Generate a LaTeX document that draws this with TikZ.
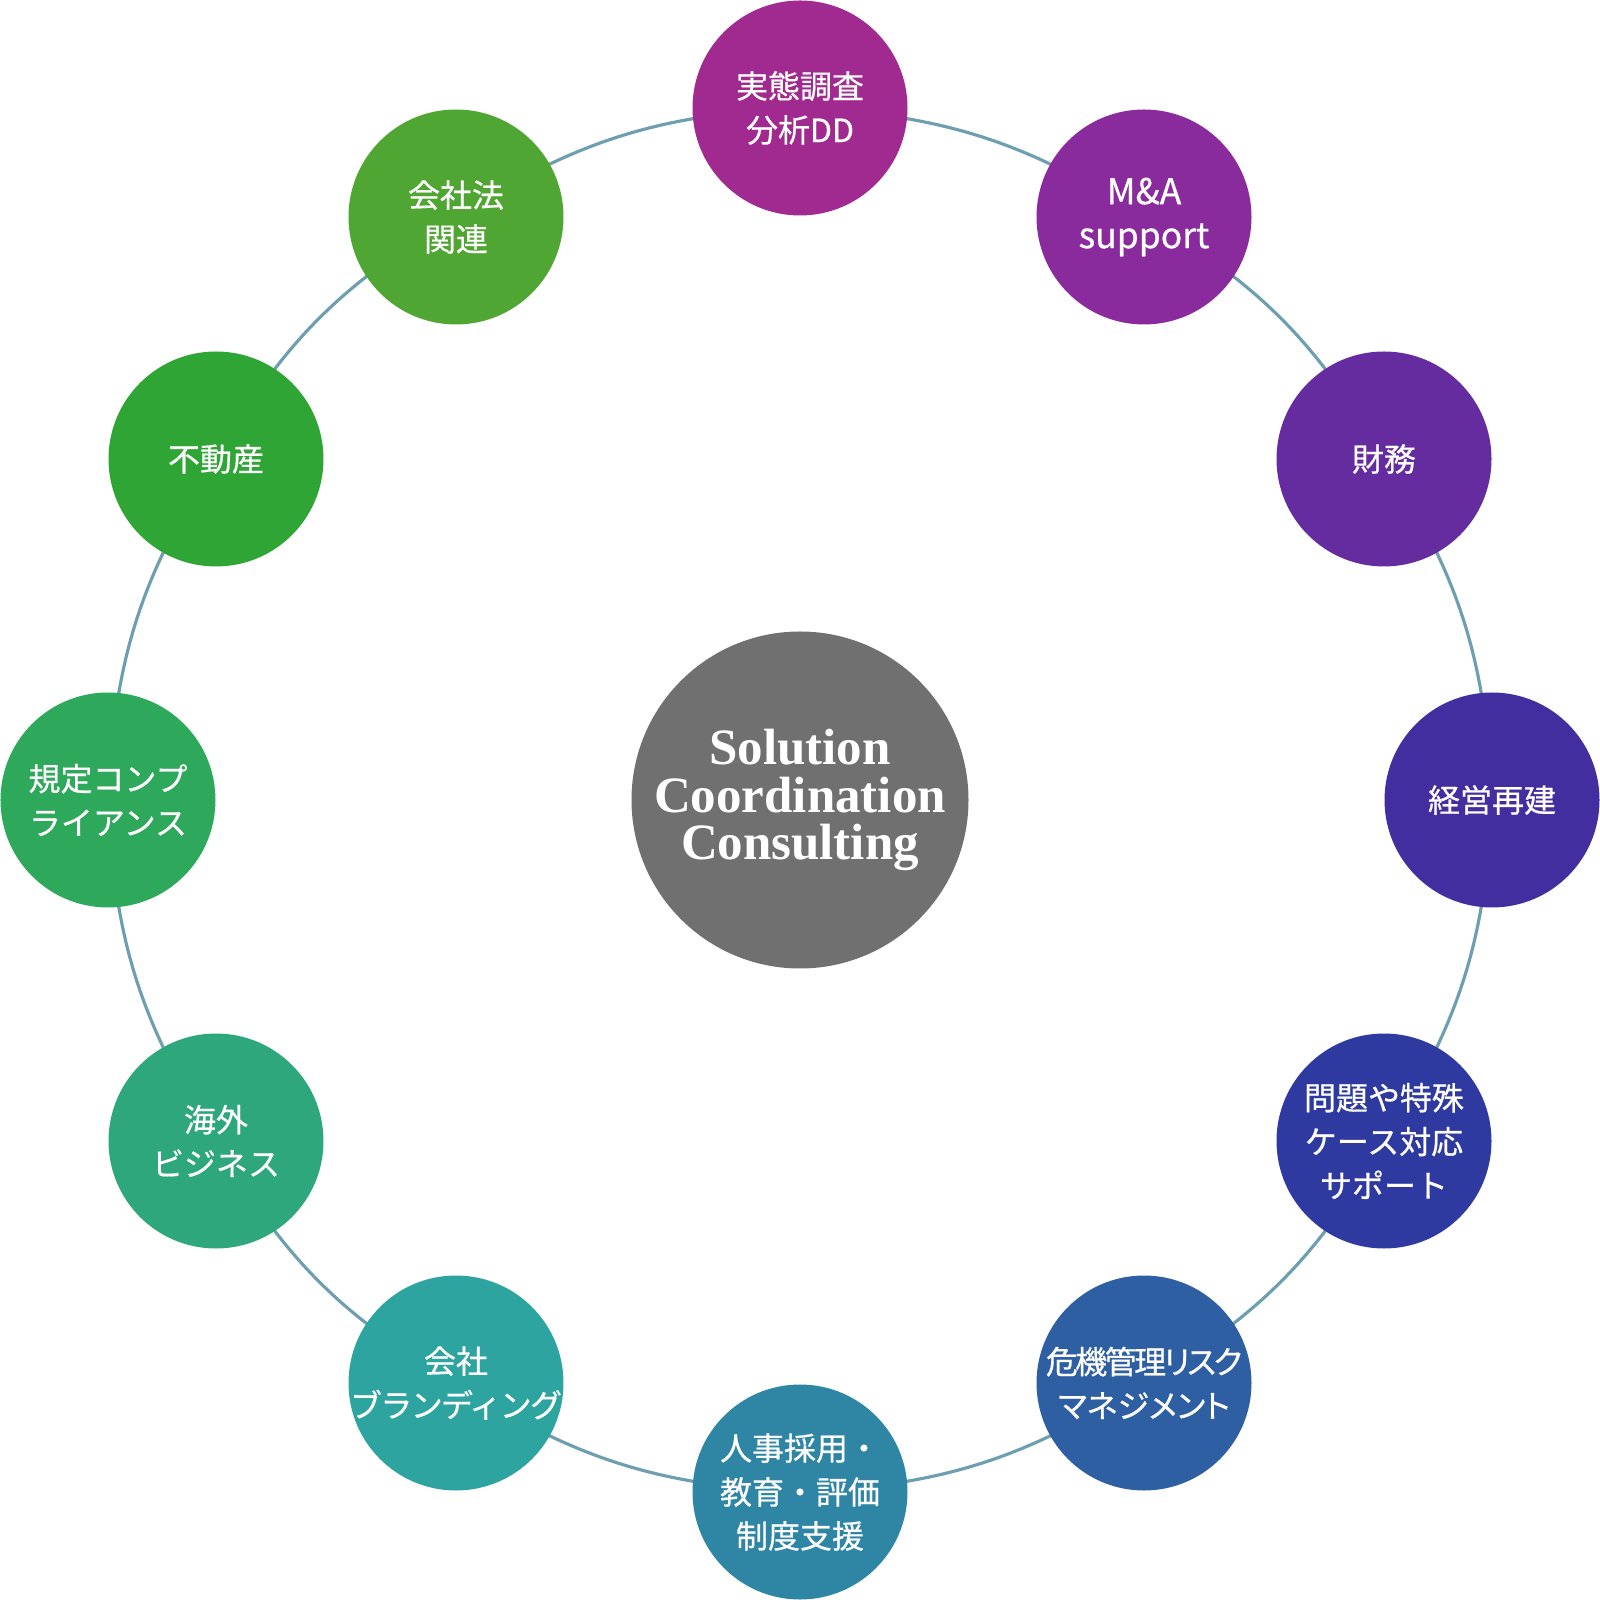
\documentclass[tikz,border=0pt]{standalone}
\usepackage{fontspec}
\setmainfont{Noto Sans CJK JP}[FakeBold=0.6]
\newfontfamily\hubfont{Liberation Serif}
\usepackage{tikz}
\usetikzlibrary{positioning,backgrounds}

\definecolor{vcol1}{HTML}{A02A8F}
\definecolor{vcol2}{HTML}{8A2B9D}
\definecolor{vcol3}{HTML}{652C9F}
\definecolor{vcol4}{HTML}{432EA0}
\definecolor{vcol5}{HTML}{2E3AA0}
\definecolor{vcol6}{HTML}{2E5FA2}
\definecolor{vcol7}{HTML}{2E86A4}
\definecolor{vcol8}{HTML}{2EA4A0}
\definecolor{vcol9}{HTML}{2EA77C}
\definecolor{vcol10}{HTML}{2EA85A}
\definecolor{vcol11}{HTML}{2EA535}
\definecolor{vcol12}{HTML}{50A632}
\definecolor{hubgray}{HTML}{707070}
\definecolor{ringcol}{HTML}{6D9FB1}

\newcommand{\palt}{\addfontfeatures{RawFeature=+palt}}
\newcommand{\tightjp}[1]{\addfontfeatures{LetterSpace=#1}}

\begin{document}
\begin{tikzpicture}[x=1cm, y=1cm]
   \useasboundingbox (-8,-8) rectangle (8,8);
   \node (c) [circle, fill=hubgray, minimum size=3.37cm, inner sep=0pt, text=white, align=center,
      font=\hubfont\bfseries\fontsize{14.5pt}{13.6pt}\selectfont] at (0,0) {Solution\\Coordination\\Consulting};
   \begin{scope}[every node/.style={circle, minimum size=2.15cm, inner sep=-8pt, text=white, align=center,
      font=\fontsize{9.1pt}{12.5pt}\selectfont}]
    \node (v1) [fill=vcol1] at (0,6.92) {実態調査\\分析DD};
    \node (v2) [fill=vcol2, font=\fontsize{10.1pt}{12.5pt}\selectfont] at (3.44,5.83) {M\&A\\support};
    \node (v3) [fill=vcol3] at (5.84,3.41) {財務};
    \node (v4) [fill=vcol4] at (6.92,0) {経営再建};
    \node (v5) [fill=vcol5] at (5.84,-3.41) {問題や特殊\\ケース対応\\サポート};
    \node (v6) [fill=vcol6] at (3.44,-5.83) {\palt\tightjp{-8}危機管理リスク\\\palt マネジメント};
    \node (v7) [fill=vcol7] at (0,-6.92) {人事採用・\\教育・評価\\制度支援};
    \node (v8) [fill=vcol8] at (-3.44,-5.83) {会社\\\tightjp{-5}ブランディング};
    \node (v9) [fill=vcol9] at (-5.84,-3.41) {海外\\ビジネス};
    \node (v10) [fill=vcol10] at (-6.92,0) {規定コンプ\\ライアンス};
    \node (v11) [fill=vcol11] at (-5.84,3.41) {不動産};
    \node (v12) [fill=vcol12] at (-3.44,5.83) {会社法\\関連};
   \end{scope}
   \begin{scope}[on background layer, every edge/.style={draw=ringcol, line width=0.9pt}]
    \foreach \a/\b in {v1/v2, v2/v3, v3/v4, v4/v5, v5/v6, v6/v7, v7/v8, v8/v9, v9/v10, v10/v11, v11/v12, v12/v1}
      \draw (\a.center) edge [bend left=15] (\b.center);
   \end{scope}
\end{tikzpicture}
\end{document}
